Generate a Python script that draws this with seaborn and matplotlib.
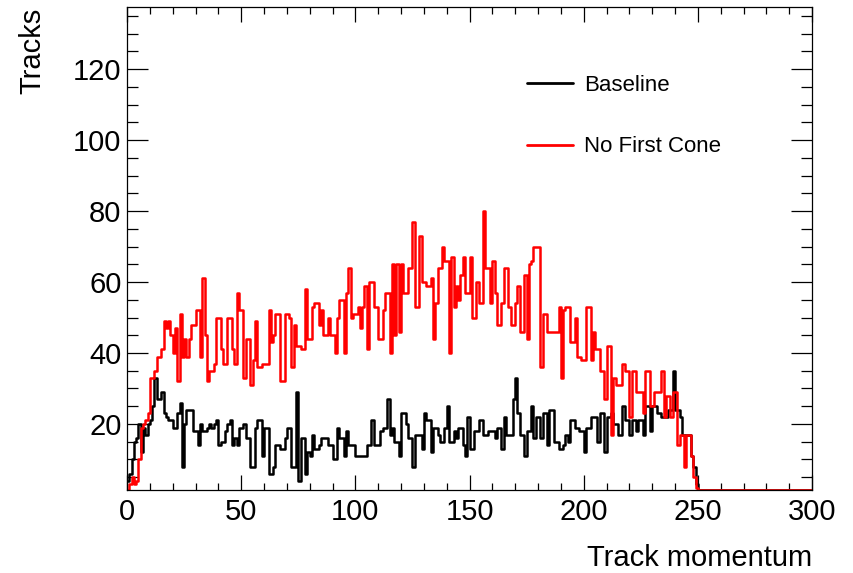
import numpy as np
import pandas as pd
import matplotlib
matplotlib.use("Agg")
import matplotlib.pyplot as plt
import seaborn as sns
from matplotlib.ticker import MultipleLocator
from matplotlib.lines import Line2D

# ---------------- data (1-unit bins, 0..300) ----------------
series_names = ["Baseline", "No First Cone"]
series_colors = ["black", "red"]

baseline = [
    4, 6, 10, 15, 16, 20, 12, 19, 17, 20,
    21, 25, 33, 27, 27, 29, 23, 22, 21, 21,
    19, 19, 23, 26, 8, 20, 24, 24, 24, 18,
    18, 14, 20, 18, 18, 19, 20, 19, 20, 21,
    14, 15, 15, 18, 20, 21, 14, 16, 14, 19,
    19, 20, 16, 16, 8, 8, 19, 21, 21, 11,
    19, 19, 6, 6, 8, 14, 14, 13, 13, 16,
    19, 19, 8, 8, 29, 4, 16, 16, 6, 12,
    11, 17, 13, 13, 14, 16, 16, 16, 14, 14,
    10, 10, 19, 16, 16, 11, 18, 14, 14, 14,
    11, 11, 11, 11, 11, 14, 14, 21, 14, 14,
    14, 18, 19, 19, 27, 17, 19, 15, 15, 11,
    23, 23, 20, 16, 16, 8, 17, 17, 17, 13,
    23, 21, 21, 12, 19, 19, 17, 15, 15, 19,
    25, 15, 15, 18, 16, 19, 19, 14, 11, 22,
    13, 13, 18, 18, 21, 21, 17, 17, 18, 18,
    18, 16, 19, 19, 13, 22, 17, 17, 17, 27,
    33, 23, 17, 17, 11, 18, 18, 25, 16, 22,
    22, 16, 23, 23, 14, 24, 24, 15, 15, 13,
    13, 14, 17, 15, 21, 21, 19, 19, 18, 18,
    12, 19, 19, 22, 22, 22, 15, 23, 23, 12,
    22, 22, 23, 20, 20, 17, 17, 25, 21, 21,
    17, 21, 21, 18, 21, 21, 17, 25, 25, 18,
    25, 25, 23, 23, 22, 22, 22, 24, 24, 35,
    24, 24, 22, 17, 17, 17, 17, 11, 8, 3,
    0, 0, 0, 0, 0, 0, 0, 0, 0, 0,
    0, 0, 0, 0, 0, 0, 0, 0, 0, 0,
    0, 0, 0, 0, 0, 0, 0, 0, 0, 0,
    0, 0, 0, 0, 0, 0, 0, 0, 0, 0,
    0, 0, 0, 0, 0, 0, 0, 0, 0, 0,
]

no_first_cone = [
    1, 3, 5, 3, 4, 10, 19, 20, 21, 23,
    33, 33, 35, 39, 39, 41, 49, 47, 49, 45,
    40, 47, 32, 51, 39, 44, 39, 44, 48, 48,
    52, 52, 39, 61, 45, 32, 35, 35, 37, 50,
    50, 41, 37, 37, 50, 50, 41, 37, 57, 52,
    52, 33, 44, 44, 31, 38, 49, 36, 36, 37,
    37, 37, 52, 43, 45, 51, 51, 32, 32, 51,
    51, 50, 36, 48, 42, 42, 41, 41, 58, 44,
    44, 53, 54, 54, 48, 52, 45, 45, 50, 45,
    45, 40, 50, 55, 55, 40, 57, 64, 50, 51,
    51, 53, 47, 53, 59, 41, 60, 60, 53, 53,
    44, 44, 52, 57, 57, 40, 65, 45, 65, 46,
    65, 57, 57, 64, 64, 77, 53, 53, 73, 60,
    60, 59, 59, 61, 44, 54, 64, 64, 70, 66,
    66, 40, 67, 53, 59, 55, 62, 67, 57, 57,
    67, 50, 50, 60, 54, 54, 80, 64, 64, 54,
    66, 57, 48, 48, 54, 64, 64, 53, 48, 48,
    54, 59, 46, 46, 62, 44, 65, 66, 70, 70,
    70, 36, 51, 51, 46, 46, 46, 46, 46, 53,
    33, 52, 53, 53, 43, 43, 50, 39, 39, 38,
    38, 53, 53, 38, 46, 41, 41, 35, 35, 27,
    42, 42, 17, 33, 31, 31, 31, 37, 35, 35,
    22, 35, 35, 29, 29, 29, 23, 35, 35, 25,
    25, 29, 29, 29, 35, 22, 28, 28, 22, 29,
    29, 14, 17, 17, 8, 17, 17, 11, 5, 2,
    0, 0, 0, 0, 0, 0, 0, 0, 0, 0,
    0, 0, 0, 0, 0, 0, 0, 0, 0, 0,
    0, 0, 0, 0, 0, 0, 0, 0, 0, 0,
    0, 0, 0, 0, 0, 0, 0, 0, 0, 0,
    0, 0, 0, 0, 0, 0, 0, 0, 0, 0,
]

x_min, x_max, bin_width = 0, 300, 1
y_min, y_max = 1.4, 137.4
x_label = "Track momentum"
y_label = "Tracks"

# ---------------- figure ----------------
sns.set_theme(style="ticks")
plt.rcParams["font.family"] = ["Liberation Sans", "DejaVu Sans"]
plt.rcParams["text.color"] = "black"

W, H = 854, 573
fig = plt.figure(figsize=(W / 100, H / 100), dpi=100)
ax = fig.add_axes([127 / W, 1 - 490 / H, (812 - 127) / W, (490 - 7.3) / H])

centers = np.arange(x_min, x_max, bin_width) + bin_width / 2.0

frames = []
for name, vals in zip(series_names, [baseline, no_first_cone]):
    v = np.asarray(vals, dtype=float)
    # ROOT draws contents below the frame minimum on the frame edge
    v_disp = np.clip(v, y_min, None)
    frames.append(pd.DataFrame({"momentum": centers, "tracks": v_disp, "series": name}))
df = pd.concat(frames, ignore_index=True)

for name, col in zip(series_names, series_colors):
    sub = df[df["series"] == name]
    sns.histplot(data=sub, x="momentum", weights="tracks",
                 binwidth=bin_width, binrange=(x_min, x_max),
                 element="step", fill=False, color=col, linewidth=1.8,
                 ax=ax, legend=False)

ax.set_xlim(x_min, x_max)
ax.set_ylim(y_min, y_max)

ax.xaxis.set_major_locator(MultipleLocator(50))
ax.xaxis.set_minor_locator(MultipleLocator(10))
ax.set_yticks([20, 40, 60, 80, 100, 120])
ax.yaxis.set_minor_locator(MultipleLocator(5))

ax.tick_params(axis="both", which="both", direction="in", top=True, right=True,
               color="black", width=0.9, labelsize=21, labelcolor="black")
ax.tick_params(axis="x", which="major", length=10.6, pad=6)
ax.tick_params(axis="x", which="minor", length=5.3)
ax.tick_params(axis="y", which="major", length=15.4, pad=4)
ax.tick_params(axis="y", which="minor", length=7.7)

for s in ax.spines.values():
    s.set_color("black")
    s.set_linewidth(0.9)

ax.set_xlabel(x_label, fontsize=21, loc="right", color="black")
ax.set_ylabel(y_label, fontsize=21, loc="top", color="black")
ax.xaxis.set_label_coords(1.0, -0.112)
ax.yaxis.set_label_coords(-0.118, 1.0)

handles = [Line2D([0], [0], color=c, lw=2) for c in series_colors]
fig.legend(handles, series_names, loc="upper left",
           bbox_to_anchor=(523 / W, 1 - 70.5 / H), frameon=False,
           fontsize=16, handlelength=2.03, handletextpad=0.5,
           labelspacing=1.82, borderpad=0.2, borderaxespad=0,
           labelcolor="black")

fig.savefig("out.png", dpi=100)
